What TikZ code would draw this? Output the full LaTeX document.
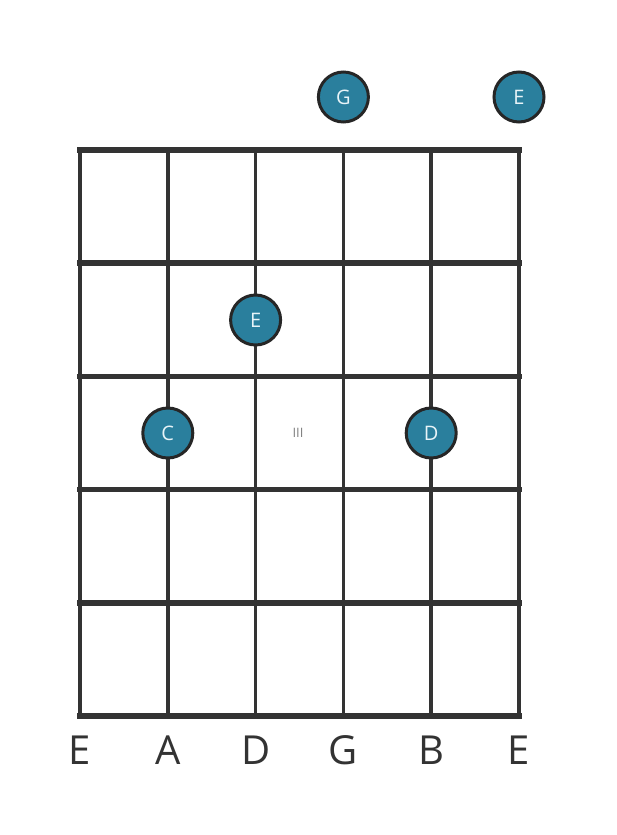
\documentclass[tikz,border=0pt]{standalone}
\usepackage{fontspec}
\setmainfont{Open Sans}
\definecolor{gridc}{HTML}{333333}
\definecolor{dotfill}{HTML}{2A7F9D}
\definecolor{dotline}{HTML}{262626}
\definecolor{dottext}{HTML}{E8F4F8}
\begin{document}
\begin{tikzpicture}[x=1pt,y=-1pt,
  stringline/.style={draw=gridc,line width=3.5pt},
  fretline/.style={draw=gridc,line width=5.5pt},
  notedot/.style={circle,draw=dotline,line width=3pt,fill=dotfill,minimum size=50pt,inner sep=0pt,text=dottext,font=\fontsize{20}{22}\selectfont},
  strlabel/.style={text=gridc,font=\fontsize{40}{44}\selectfont,inner sep=0pt},
  fretnum/.style={text=gray,font=\fontsize{13}{15}\selectfont,inner sep=0pt}]
\useasboundingbox (0,0) rectangle (617,835);
% strings
\foreach \i/\x in {1/80,2/167.8,3/255.6,4/343.4,5/431.2,6/519}{
  \coordinate (st\i) at (\x,150);
  \coordinate (sb\i) at (\x,716);
  \draw[stringline] (st\i) -- (sb\i);
}
% frets
\foreach \j/\y in {0/150,1/263.2,2/376.4,3/489.6,4/602.8,5/716}{
  \coordinate (fl\j) at (77.25,\y);
  \coordinate (fr\j) at (521.75,\y);
  \draw[fretline] (fl\j) -- (fr\j);
}
% notes
\node[notedot] (nG) at (343.4,97) {G};
\node[notedot] (nE1) at (519,97) {E};
\node[notedot] (nE2) at (255.6,320) {E};
\node[notedot] (nC) at (167.8,433) {C};
\node[notedot] (nD) at (431.2,433) {D};
\node[fretnum] (fn) at (298,433) {III};
% labels
\node[strlabel] (l1) at (80,750) {E};
\node[strlabel] (l2) at (167.8,750) {A};
\node[strlabel] (l3) at (255.6,750) {D};
\node[strlabel] (l4) at (343.4,750) {G};
\node[strlabel] (l5) at (431.2,750) {B};
\node[strlabel] (l6) at (519,750) {E};
\end{tikzpicture}
\end{document}
